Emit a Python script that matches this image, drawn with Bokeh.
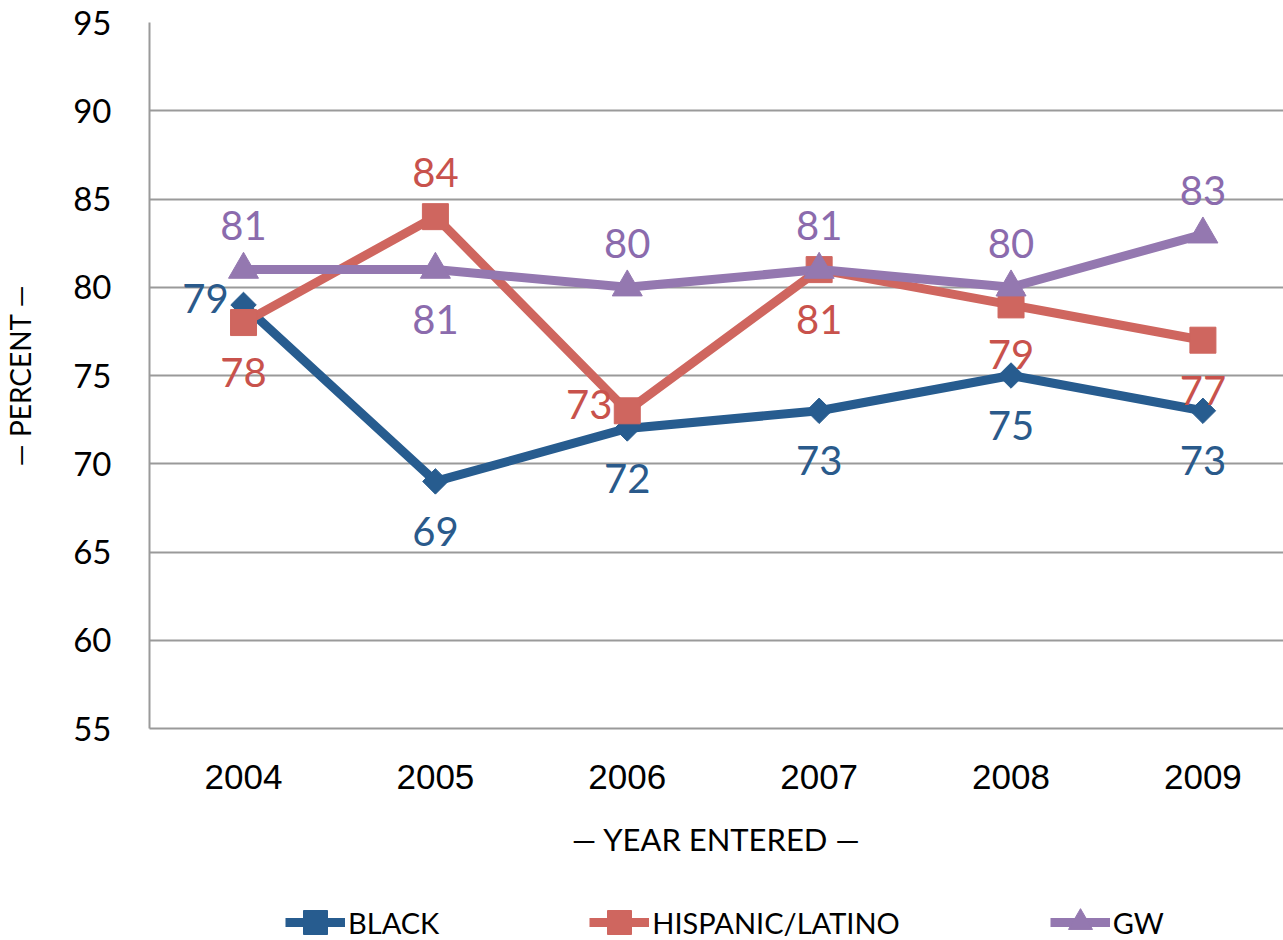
import math
from bokeh.plotting import figure
from bokeh.layouts import column
from bokeh.models import Range1d, FixedTicker, Legend, LegendItem, ColumnDataSource
from bokeh.core.properties import value
from bokeh.embed import file_html
from bokeh.resources import INLINE

# ---- data ----
years = [2004, 2005, 2006, 2007, 2008, 2009]
black = [79, 69, 72, 73, 75, 73]
hispanic = [78, 84, 73, 81, 79, 77]
gw = [81, 81, 80, 81, 80, 83]
series_names = ["BLACK", "HISPANIC/LATINO", "GW"]
y_ticks = [55, 60, 65, 70, 75, 80, 85, 90, 95]
x_title = "\u2014 YEAR ENTERED \u2014"
y_title = "\u2014 PERCENT \u2014"

# label placement relative to each point
black_pos = ["left", "below", "below", "below", "below", "below"]
hisp_pos = ["below", "above", "left", "below", "below", "below"]
gw_pos = ["above", "below", "above", "above", "above", "above"]

OFF = {"above": (0, -44), "below": (0, 50), "left": (-38, -6)}

BLUE, RED, PURPLE = "#275C8F", "#CF665F", "#9478B0"
BLUE_T, RED_T, PURPLE_T = "#2A5A8B", "#C8524C", "#8B6BAD"

p = figure(frame_width=1134, frame_height=706, output_backend="svg",
           toolbar_location=None,
           x_range=Range1d(2003.51, 2009.42), y_range=Range1d(55, 95),
           min_border_left=141, min_border_right=0, min_border_top=22,
           min_border_bottom=150)
p.outline_line_color = None
p.background_fill_color = "white"

# grid
p.xgrid.grid_line_color = None
p.ygrid.grid_line_color = "#9A9A9A"
p.ygrid.grid_line_width = 2
p.ygrid.ticker = FixedTicker(ticks=y_ticks)

# axes
p.yaxis.ticker = FixedTicker(ticks=y_ticks)
p.xaxis.ticker = FixedTicker(ticks=years)
for ax in (p.xaxis[0], p.yaxis[0]):
    ax.axis_line_color = "#9A9A9A"
    ax.axis_line_width = 2
    ax.major_tick_line_color = None
    ax.minor_tick_line_color = None
    ax.major_tick_out = 0
    ax.major_tick_in = 0
    ax.axis_label_text_font_style = "normal"
    ax.axis_label_text_color = "black"
    ax.major_label_text_color = "black"

p.yaxis.major_label_text_font = "Lato"
p.yaxis.major_label_text_font_size = "33px"
p.yaxis.major_label_standoff = 38
p.yaxis.axis_label = y_title
p.yaxis.axis_label_text_font = "Lato"
p.yaxis.axis_label_text_font_size = "28px"
p.yaxis.axis_label_standoff = 33

p.xaxis.major_label_text_font = "Liberation Sans"
p.xaxis.major_label_text_font_size = "35px"
p.xaxis.major_label_standoff = 36
p.xaxis.axis_label = x_title
p.xaxis.axis_label_text_font = "Lato"
p.xaxis.axis_label_text_font_size = "31px"
p.xaxis.axis_label_standoff = 28

series = [
    (black, black_pos, BLUE, BLUE_T, dict(marker="square", size=18, angle=math.pi / 4)),
    (hispanic, hisp_pos, RED, RED_T, dict(marker="square", size=26)),
    (gw, gw_pos, PURPLE, PURPLE_T, dict(marker="triangle", size=30)),
]

for name, (vals, pos, col, tcol, mk) in zip(series_names, series):
    src = ColumnDataSource(dict(x=years, y=vals))
    p.line("x", "y", source=src, line_color=col, line_width=9)
    p.scatter("x", "y", source=src, fill_color=col, line_color=col, **mk)

for name, (vals, pos, col, tcol, mk) in zip(series_names, series):
    src = ColumnDataSource(dict(
        x=years, y=vals, lab=[str(v) for v in vals],
        xo=[OFF[q][0] for q in pos], yo=[OFF[q][1] for q in pos]))
    p.text("x", "y", text="lab", source=src, x_offset="xo", y_offset="yo",
           text_align="center", text_baseline="middle",
           text_font=value("Lato"), text_font_size="40px", text_color=tcol)

# ---- legend strip (separate canvas below the chart) ----
p2 = figure(width=1275, height=62, output_backend="svg", toolbar_location=None,
            x_range=Range1d(0, 1), y_range=Range1d(0, 1),
            x_axis_location=None, y_axis_location=None, min_border=0)
p2.outline_line_color = None
p2.grid.visible = False
items = []
for name, (vals, pos, col, tcol, mk) in zip(series_names, series):
    # legend proxies: same series, drawn outside the strip's visible range
    src = ColumnDataSource(dict(x=years, y=vals))
    ln = p2.line("x", "y", source=src, line_color=col, line_width=9)
    sc = p2.scatter("x", "y", source=src, fill_color=col, line_color=col,
                    **{k: v for k, v in mk.items() if k != "size"})
    items.append(LegendItem(label=name, renderers=[ln, sc]))

legend = Legend(items=items, orientation="horizontal", location=(136, -12),
                spacing=150, glyph_width=60, glyph_height=60, label_standoff=3,
                label_text_font="Lato", label_text_font_size="29px",
                label_text_color="black",
                border_line_alpha=0, background_fill_alpha=0,
                padding=0, margin=0)
p2.add_layout(legend, "center")

layout = column(p, p2, spacing=0)
open("out.html", "w").write(file_html(layout, INLINE))
